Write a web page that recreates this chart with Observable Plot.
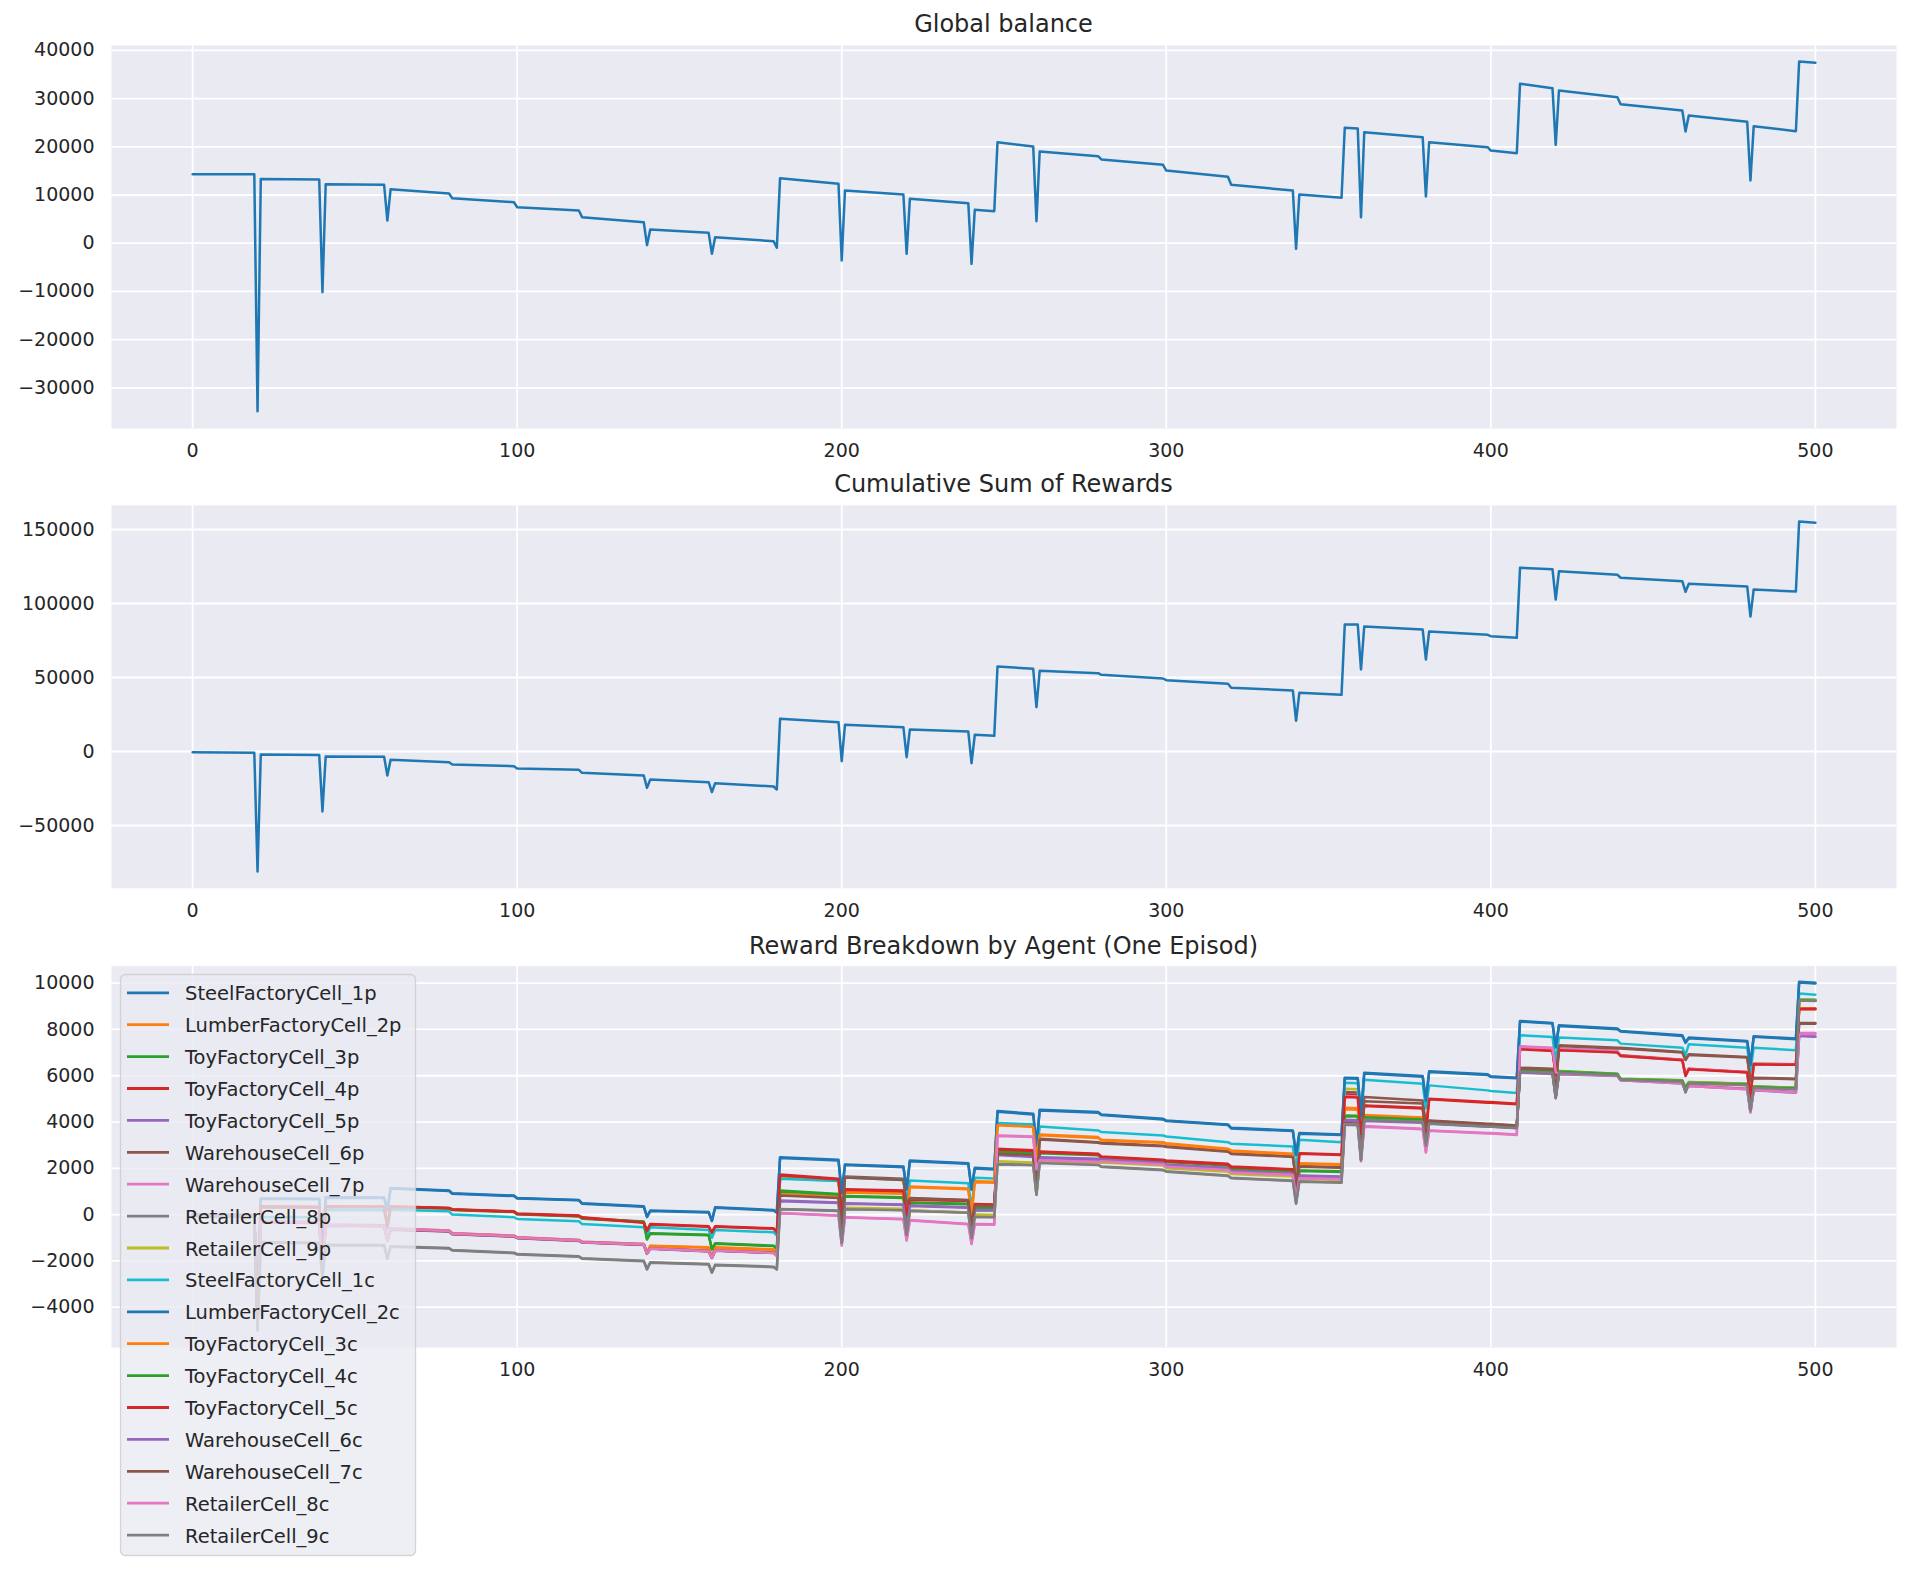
<!DOCTYPE html>
<html><head><meta charset="utf-8">
<script src="https://cdn.jsdelivr.net/npm/d3@7"></script>
<script src="https://cdn.jsdelivr.net/npm/@observablehq/plot@0.6"></script>
<style>
html,body{margin:0;padding:0;background:#fff;}
#root{position:relative;width:1918px;height:1586px;overflow:hidden;background:#fff;}
</style></head><body><div id="root"></div>
<script>
// ---- data (vertices of each polyline: step index -> value) ----
const steps = [0,19,20,21,39,40,41,59,60,
  61,79,80,99,100,119,120,139,140,141,159,160,161,179,180,
  181,199,200,201,219,220,221,239,240,241,247,
  248,259,260,261,279,280,299,300,319,320,339,340,341,354,
  355,359,360,361,379,380,381,399,400,408,
  409,419,420,421,439,440,459,460,461,479,480,481,494,
  495,500];

const globalBalance = [14300,14300,-34850,13300,13200,-10150,12240,12110,4700,
  11200,10300,9340,8500,7470,6780,5400,4360,-400,2850,2150,-2200,1250,420,-950,
  13500,12320,-3590,10930,10100,-2200,9200,8300,-4280,6930,6650,
  20950,20060,4560,19020,18050,17370,16260,15080,13770,12110,10930,-1170,10100,9420,
  23940,23800,5400,23030,22000,9690,20950,19920,19230,18670,
  33070,32160,20410,31680,30290,28840,27530,23170,26490,25190,13010,24270,23240,
  37700,37430];

const cumulativeRewards = [-500,-800,-81080,-2030,-2300,-40540,-3380,-3600,-16200,
  -5630,-7200,-8780,-9910,-11490,-12390,-14410,-16220,-24550,-19000,-20720,-27480,-21400,-23650,-25680,
  22070,19820,-6530,18020,16440,-3830,14860,13510,-7880,11260,10580,
  57430,55860,29950,54500,52930,51800,49320,48200,45720,43020,41220,20700,39640,38290,
  85810,85810,55410,84460,82430,62160,81080,78830,77930,76800,
  124100,123200,102700,121800,119400,117400,115100,107900,113300,111500,91200,109500,108100,
  155400,154500];

const agentNames = ["SteelFactoryCell_1p","LumberFactoryCell_2p","ToyFactoryCell_3p","ToyFactoryCell_4p",
  "ToyFactoryCell_5p","WarehouseCell_6p","WarehouseCell_7p","RetailerCell_8p","RetailerCell_9p",
  "SteelFactoryCell_1c","LumberFactoryCell_2c","ToyFactoryCell_3c","ToyFactoryCell_4c","ToyFactoryCell_5c",
  "WarehouseCell_6c","WarehouseCell_7c","RetailerCell_8c","RetailerCell_9c"];
const agentColors = ["#1f77b4","#ff7f0e","#2ca02c","#d62728","#9467bd","#8c564b","#e377c2","#7f7f7f","#bcbd22",
  "#17becf","#1f77b4","#ff7f0e","#2ca02c","#d62728","#9467bd","#8c564b","#e377c2","#7f7f7f"];

const steelFactory1p = [0,-20,-3800,700,680,-1700,750,740,200,
  1150,1040,923,822,721,635,490,361,-87,173,115,-260,317,202,100,
  2482,2367,950,2165,2078,1100,2338,2222,1100,2020,1977,
  4473,4358,3000,4531,4430,4329,4141,4069,3896,3752,3636,2600,3521,3463,
  5916,5900,4300,6133,5988,4950,6190,6061,5974,5916,
  8369,8283,7250,8182,8037,7936,7749,7450,7648,7504,6500,7706,7605,
  10058,10014];
const lumberFactory2p = [-40,-60,-4600,-300,-320,-2400,-440,-460,-1100,
  -600,-690,-808,-909,-981,-1097,-1169,-1270,-1660,-1342,-1414,-1847,-1414,-1500,-1700,
  895,800,-600,1000,940,-100,1212,1126,0,1443,1420,
  3896,3824,2400,3463,3348,3232,3131,3088,2843,2771,2626,1600,2222,2180,
  4618,4600,3000,4300,4200,3150,4000,3870,3860,3800,
  6250,6200,5150,6150,6050,5850,5750,5450,5700,5620,4600,5520,5460,
  8920,8900];
const toyFactory3p = [-20,-40,-4400,340,330,-2100,350,340,-500,
  340,280,220,130,30,-60,-159,-303,-1053,-808,-866,-1486,-1241,-1342,-1450,
  1039,895,-500,808,750,-250,520,470,-600,300,280,
  2742,2690,1300,2680,2590,2480,2340,2300,2150,2000,1910,850,1905,1870,
  4286,4270,2700,4242,4141,3100,3997,3853,3850,3780,
  6300,6250,5200,6205,6089,5873,5800,5500,5728,5656,4620,5541,5483,
  9300,9280];
const toyFactory4p = [-20,-40,-4300,350,340,-2100,360,350,-500,
  360,290,231,144,43,-43,-115,-332,-693,-404,-505,-765,-505,-592,-750,
  1732,1544,150,1097,1039,0,664,606,-500,462,440,
  2843,2780,1400,2727,2626,2511,2367,2338,2193,2078,1962,900,2655,2600,
  5200,5180,3600,4719,4618,3570,5007,4863,4863,4791,
  7172,7100,6050,7128,7027,6883,6696,6017,6306,6162,5130,6522,6494,
  8903,8903];
const toyFactory5p = [-40,-60,-4600,-320,-340,-2400,-460,-480,-1100,
  -630,-710,-830,-930,-1000,-1120,-1190,-1290,-1680,-1460,-1570,-1860,-1540,-1640,-1760,
  606,520,-900,491,433,-600,390,317,-780,202,190,
  2597,2520,1150,2482,2410,2410,2270,2165,2020,1905,1789,750,1688,1650,
  4098,4080,2500,4069,3997,2950,3950,3820,3820,3760,
  6162,6100,5050,6089,6017,5829,5685,5400,5584,5440,4450,5397,5296,
  7749,7700];
const warehouse6p = [-40,-60,-4600,-310,-330,-2400,-450,-470,-1100,
  -620,-700,-820,-920,-990,-1110,-1180,-1280,-1660,-1443,-1558,-1847,-1530,-1630,-1750,
  1616,1472,100,1645,1544,500,722,635,-400,390,370,
  2655,2600,1200,3276,3131,3100,2980,2950,2750,2650,2520,1500,2100,2050,
  5300,5280,3700,5079,4935,3900,4069,3925,3925,3853,
  6349,6300,5250,7316,7215,7215,7027,6700,6926,6811,5800,5916,5873,
  8283,8283];
const warehouse7p = [-40,-60,-4600,-300,-320,-2400,-440,-460,-1100,
  -600,-690,-810,-910,-985,-1100,-1170,-1275,-1660,-1450,-1560,-1850,-1535,-1635,-1760,
  72,-43,-1350,-115,-188,-1125,-231,-404,-1270,-404,-420,
  3420,3377,2000,2380,2300,2330,2200,2100,1960,1850,1740,700,1600,1560,
  5123,5100,2367,3824,3708,2698,3636,3521,3521,3463,
  7273,7215,6200,7180,7080,6850,6680,6000,6290,6150,5100,6500,6470,
  7850,7850];
const retailer8p = [-60,-80,-5000,-1200,-1220,-2700,-1300,-1310,-1900,
  -1370,-1443,-1530,-1645,-1703,-1804,-1890,-1991,-2350,-2063,-2136,-2496,-2165,-2251,-2350,
  245,173,-1200,245,202,-850,173,87,-1000,-87,-100,
  2193,2150,866,2251,2165,2078,1934,1876,1688,1587,1472,491,1443,1400,
  3900,3880,2367,4120,4030,3000,3960,3830,3830,3760,
  6200,6150,5079,6150,6040,5850,5760,5296,5700,5620,4502,5500,5440,
  9270,9250];
const retailer9p = [-40,-60,-4600,-330,-350,-2400,-470,-490,-1100,
  -640,-720,-840,-940,-1010,-1130,-1200,-1300,-1690,-1470,-1580,-1870,-1550,-1650,-1770,
  1570,1450,50,300,250,-800,173,87,-1000,0,-20,
  2300,2250,900,2300,2220,2250,2120,2000,1850,1750,1650,600,1550,1500,
  5440,5420,3800,4150,4050,3000,3990,3850,3850,3780,
  6250,6200,5150,6180,6060,5860,5780,5480,5720,5650,4620,5530,5470,
  9293,9260];
const steelFactory1c = [-40,-60,-4500,-100,-110,-2300,200,190,-600,
  210,144,0,-115,-188,-289,-404,-548,-900,-548,-664,-1000,-664,-765,-900,
  1550,1450,100,1600,1500,450,1472,1356,250,1587,1560,
  3954,3900,2500,3809,3636,3564,3420,3377,3131,3059,2944,1900,3232,3131,
  5700,5680,4100,5829,5656,4600,5584,5368,5339,5252,
  7749,7677,6620,7648,7532,7388,7215,6900,7360,7215,6200,7215,7100,
  9553,9500];
const lumberFactory2c = [-10,-30,-3850,680,660,-1750,730,720,180,
  1130,1020,900,800,700,615,470,340,-110,150,95,-280,295,180,80,
  2450,2340,920,2140,2050,1080,2310,2195,1070,1995,1950,
  4440,4330,2970,4500,4400,4300,4110,4040,3870,3725,3610,2570,3495,3440,
  5890,5875,4270,6100,5960,4920,6160,6035,5950,5890,
  8340,8255,7220,8150,8010,7910,7720,7420,7620,7480,6470,7680,7580,
  10030,9990];
const toyFactory3c = [-50,-70,-4620,-320,-340,-2420,-460,-480,-1120,
  -620,-710,-828,-929,-1000,-1115,-1188,-1290,-1680,-1360,-1432,-1865,-1432,-1518,-1720,
  850,760,-640,950,900,-140,1180,1100,-30,1400,1380,
  3860,3790,2370,3430,3315,3200,3100,3055,2815,2740,2600,1570,2195,2150,
  4550,4535,2950,4270,4170,3120,3970,3840,3830,3770,
  6220,6170,5120,6120,6020,5820,5720,5420,5670,5590,4570,5490,5430,
  8900,8880];
const toyFactory4c = [-30,-50,-4420,320,310,-2120,330,320,-520,
  320,260,200,110,10,-80,-180,-325,-1075,-830,-888,-1505,-1262,-1362,-1470,
  1000,870,-530,780,720,-280,500,450,-620,280,260,
  2715,2660,1270,2650,2560,2455,2315,2275,2125,1975,1885,820,1880,1845,
  4250,4235,2670,4210,4110,3070,3965,3825,3820,3750,
  6270,6220,5170,6175,6060,5845,5770,5470,5700,5628,4590,5512,5455,
  9260,9240];
const toyFactory5c = [-30,-50,-4320,330,320,-2120,340,330,-520,
  340,270,210,125,25,-60,-135,-350,-710,-425,-525,-785,-525,-610,-770,
  1700,1515,120,1070,1010,-30,640,585,-520,440,420,
  2815,2750,1370,2700,2600,2485,2340,2310,2165,2050,1935,870,2625,2575,
  5079,5060,3480,4690,4590,3540,4980,4835,4835,4765,
  7145,7070,6020,7100,7000,6855,6670,5990,6280,6135,5100,6494,6470,
  8870,8870];
const warehouse6c = [-50,-70,-4620,-340,-360,-2420,-480,-500,-1120,
  -650,-730,-850,-950,-1020,-1140,-1210,-1310,-1700,-1480,-1590,-1880,-1560,-1660,-1780,
  580,500,-930,470,410,-630,370,300,-800,190,180,
  2570,2490,1120,2455,2385,2385,2245,2140,1995,1880,1765,720,1665,1625,
  4050,4035,2470,4040,3970,2920,3925,3795,3795,3735,
  6135,6075,5020,6060,5990,5800,5660,5370,5555,5415,4420,5370,5270,
  7720,7690];
const warehouse7c = [-50,-70,-4620,-330,-350,-2420,-470,-490,-1120,
  -640,-720,-840,-940,-1010,-1130,-1200,-1300,-1680,-1463,-1578,-1867,-1550,-1650,-1770,
  822,721,-650,1600,1500,450,700,620,-450,380,360,
  2620,2570,1150,3240,3100,3070,2950,2920,2720,2620,2490,1450,2070,2020,
  3954,3940,2400,4900,4800,3750,4040,3900,3900,3830,
  6320,6270,5220,7280,7180,7180,7000,6680,6900,6790,5780,5890,5850,
  8250,8250];
const retailer8c = [-50,-70,-4620,-320,-340,-2420,-460,-480,-1120,
  -620,-710,-830,-930,-1005,-1120,-1190,-1295,-1680,-1470,-1580,-1870,-1555,-1655,-1780,
  60,-50,-1300,-130,-200,-1100,-250,-420,-1250,-420,-440,
  3400,3350,1950,2350,2270,2300,2170,2070,1930,1820,1710,680,1570,1530,
  3896,3880,2300,3800,3690,2680,3620,3500,3500,3440,
  7250,7190,6150,6100,6000,5800,5660,5350,5560,5420,4420,5380,5280,
  7800,7800];
const retailer9c = [-70,-90,-5000,-1220,-1240,-2720,-1320,-1330,-1920,
  -1390,-1463,-1550,-1665,-1723,-1824,-1910,-2011,-2370,-2083,-2156,-2516,-2185,-2271,-2370,
  230,160,-1220,230,190,-870,160,80,-1020,-100,-115,
  2170,2130,850,2230,2145,2058,1914,1856,1668,1567,1452,470,1423,1380,
  3880,3860,2350,4100,4010,2980,3940,3810,3810,3740,
  6180,6130,5060,6130,6020,5830,5740,5280,5680,5600,4490,5480,5420,
  9250,9230];

const agentSeries = [steelFactory1p, lumberFactory2p, toyFactory3p, toyFactory4p, toyFactory5p,
  warehouse6p, warehouse7p, retailer8p, retailer9p, steelFactory1c, lumberFactory2c, toyFactory3c,
  toyFactory4c, toyFactory5c, warehouse6c, warehouse7c, retailer8c, retailer9c];

const xTicks = [0,100,200,300,400,500];
const xTicksVisible3 = [100,200,300,400,500]; // the 0 label of the last panel sits under the legend
const yTicks1 = [-30000,-20000,-10000,0,10000,20000,30000,40000];
const yTicks2 = [-50000,0,50000,100000,150000];
const yTicks3 = [-4000,-2000,0,2000,4000,6000,8000,10000];
const titles = ["Global balance","Cumulative Sum of Rewards","Reward Breakdown by Agent (One Episod)"];

// ---- drawing ----
const root = document.getElementById("root");
const FONT = '"DejaVu Sans", sans-serif';
const fmt = d => d < 0 ? "\u2212" + Math.abs(d) : String(d);

function panel(top, marginTop, marginBottom, yDomain, yTicks, xLabelTicks, marks, color) {
  const svg = Plot.plot({
    width: 1918, height: 470,
    marginLeft: 111, marginRight: 22, marginTop, marginBottom,
    style: {fontFamily: FONT, fontSize: "19px", color: "#262626", background: "transparent", overflow: "visible"},
    x: {domain: [-25, 525], ticks: xLabelTicks, tickSize: 0, tickPadding: 15, label: null, tickFormat: fmt},
    y: {domain: yDomain, ticks: yTicks, tickSize: 0, tickPadding: 17, label: null, tickFormat: fmt},
    color,
    marks: [
      Plot.frame({fill: "#EAEAF2", stroke: "none"}),
      Plot.gridX(xTicks, {stroke: "#ffffff", strokeOpacity: 1, strokeWidth: 1.8}),
      Plot.gridY(yTicks, {stroke: "#ffffff", strokeOpacity: 1, strokeWidth: 1.8}),
      ...marks
    ]
  });
  svg.style.position = "absolute";
  svg.style.left = "0px";
  svg.style.top = top + "px";
  svg.style.maxWidth = "none";
  root.appendChild(svg);
}

const gbData = steps.map((s, i) => ({step: s, value: globalBalance[i]}));
const crData = steps.map((s, i) => ({step: s, value: cumulativeRewards[i]}));
const agData = agentNames.flatMap((name, k) => steps.map((s, i) => ({step: s, value: agentSeries[k][i], agent: name})));

panel(0, 45, 42, [-38444, 41017], yTicks1, xTicks,
  [Plot.line(gbData, {x: "step", y: "value", stroke: "#1f77b4", strokeWidth: 2.5})]);
panel(460, 45, 42.3, [-92365, 166216], yTicks2, xTicks,
  [Plot.line(crData, {x: "step", y: "value", stroke: "#1f77b4", strokeWidth: 2.5})]);
panel(920, 45.6, 43, [-5743, 10738], yTicks3, xTicksVisible3,
  [Plot.line(agData, {x: "step", y: "value", z: "agent", stroke: "agent", strokeWidth: 2.5})],
  {domain: agentNames, range: agentColors});

// titles + legend overlay
const ov = d3.create("svg").attr("width", 1918).attr("height", 1586)
  .style("position", "absolute").style("left", "0px").style("top", "0px")
  .style("font-family", FONT);
const titleBaselines = [32, 492, 954];
titles.forEach((t, i) => {
  ov.append("text").attr("x", 1003.5).attr("y", titleBaselines[i]).attr("text-anchor", "middle")
    .attr("font-size", 24).attr("fill", "#262626").text(t);
});
const lg = ov.append("g");
lg.append("rect").attr("x", 120.5).attr("y", 974.5).attr("width", 295).attr("height", 581).attr("rx", 5)
  .attr("fill", "#EAEAF2").attr("fill-opacity", 0.8).attr("stroke", "#cccccc").attr("stroke-opacity", 0.8).attr("stroke-width", 1.3);
agentNames.forEach((n, i) => {
  const cy = 992.8 + i * 31.9;
  lg.append("line").attr("x1", 127).attr("x2", 169).attr("y1", cy).attr("y2", cy)
    .attr("stroke", agentColors[i]).attr("stroke-width", 2.8);
  lg.append("text").attr("x", 185).attr("y", cy + 7.5).attr("font-size", 19.5).attr("fill", "#262626").text(n);
});
root.appendChild(ov.node());
</script>
</body></html>
